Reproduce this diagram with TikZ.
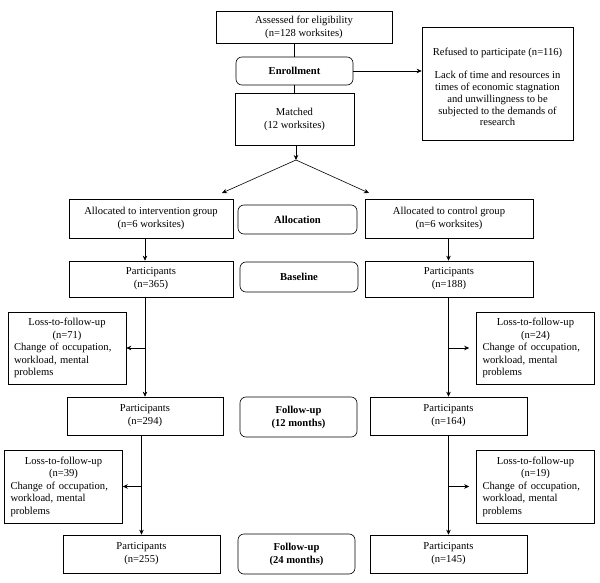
\documentclass[tikz,border=0pt]{standalone}
\usepackage{fontspec}
\setmainfont{Liberation Serif}
\usetikzlibrary{arrows.meta,positioning}

\tikzset{
    box/.style={draw, line width=0.6pt, align=center, inner xsep=2pt, inner ysep=1.5pt,
        font=\fontsize{10.6}{13}\selectfont},
    phase/.style={box, rounded corners=6pt, font=\fontsize{10.6}{13}\selectfont\bfseries},
    lossbox/.style={box, align=left, text width=106pt, inner xsep=6pt,
        font=\fontsize{10.6}{12.5}\selectfont},
    flow/.style={line width=0.6pt},
}

\begin{document}
\begin{tikzpicture}[x=1pt, y=-1pt, >={Stealth[length=5pt,width=4.5pt]}]
    \useasboundingbox (0,0) rectangle (600,583);

    % Enrollment
    \node[box, minimum width=176, minimum height=32] (assess) at (304,27)
        {Assessed for eligibility\\(n=128 worksites)};
    \node[phase, minimum width=117, minimum height=28] (enroll) at (294.5,71)
        {Enrollment};
    \node[box, minimum width=119, minimum height=52] (match) at (294.5,119)
        {Matched\\(12 worksites)};
    \node[box, minimum width=151, minimum height=113,
          font=\fontsize{10.6}{11.8}\selectfont] (refuse) at (497.5,83.5)
        {\rule{0pt}{15pt}Refused to participate (n=116)\\[11pt]
         Lack of time and resources in\\times of economic stagnation\\
         and unwillingness to be\\subjected to the demands of\\research};

    \draw[flow] (assess.south -| enroll.north) -- (enroll.north);
    \draw[flow] (enroll) -- (match);
    \draw[flow, ->] (enroll.east) -- (refuse.west |- enroll.east);

    % Split into the two groups
    \coordinate (split) at (296,160);
    \coordinate (toleft) at (222,193);
    \coordinate (toright) at (369,193);
    \draw[flow, ->] (match.south -| split) -- (split);
    \draw[flow, ->] (split) -- (toleft);
    \draw[flow, ->] (split) -- (toright);

    % Allocation
    \node[box, minimum width=164, minimum height=39] (interv) at (151,218.5)
        {Allocated to intervention group\\(n=6 worksites)};
    \node[phase, minimum width=119, minimum height=29] (alloc) at (297.5,219.5)
        {Allocation};
    \node[box, minimum width=168, minimum height=39] (control) at (449,218.5)
        {Allocated to control group\\(n=6 worksites)};

    % Baseline
    \node[box, minimum width=164, minimum height=36] (partA) at (151,279)
        {Participants\\(n=365)};
    \node[phase, minimum width=118, minimum height=30] (base) at (299,277)
        {Baseline};
    \node[box, minimum width=168, minimum height=36] (partB) at (449,279)
        {Participants\\(n=188)};

    % Follow-up 12 months
    \node[lossbox, minimum height=72] (lossA) at (67,348)
        {{\centering Loss-to-follow-up\\(n=71)\par}Change of occupation,\\workload, mental\\problems};
    \node[lossbox, minimum height=72] (lossB) at (535.5,348)
        {{\centering Loss-to-follow-up\\(n=24)\par}Change of occupation,\\workload, mental\\problems};
    \node[box, minimum width=156, minimum height=38] (partC) at (145,416)
        {Participants\\(n=294)};
    \node[phase, minimum width=117, minimum height=40] (fuA) at (298.5,417)
        {Follow-up\\(12 months)};
    \node[box, minimum width=157, minimum height=38] (partD) at (448.5,416)
        {Participants\\(n=164)};

    % Follow-up 24 months
    \node[lossbox, minimum height=73] (lossC) at (63.5,486.5)
        {{\centering Loss-to-follow-up\\(n=39)\par}Change of occupation,\\workload, mental\\problems};
    \node[lossbox, minimum height=73] (lossD) at (535.5,486.5)
        {{\centering Loss-to-follow-up\\(n=19)\par}Change of occupation,\\workload, mental\\problems};
    \node[box, minimum width=157, minimum height=38] (partE) at (141.5,554)
        {Participants\\(n=255)};
    \node[phase, minimum width=117, minimum height=40] (fuB) at (296.5,554)
        {Follow-up\\(24 months)};
    \node[box, minimum width=157, minimum height=38] (partF) at (448.5,554)
        {Participants\\(n=145)};

    % Flow between stages
    \draw[flow, ->] (interv.south -| partC.north) -- (partA.north -| partC.north);
    \draw[flow, ->] (control.south -| partD.north) -- (partB.north -| partD.north);
    \draw[flow, ->] (partA.south -| partC.north) -- (partC.north);
    \draw[flow, ->] (partC.north |- lossA.east) -- (lossA.east);
    \draw[flow, ->] (partB.south -| partD.north) -- (partD.north);
    \draw[flow, ->, shorten >=7pt] (partD.north |- lossB.west) -- (lossB.west);
    \draw[flow, ->] (partC.south -| partE.north) -- (partE.north);
    \draw[flow, ->] (partE.north |- lossC.east) -- (lossC.east);
    \draw[flow, ->] (partD.south) -- (partF.north);
    \draw[flow, ->, shorten >=7pt] (partF.north |- lossD.west) -- (lossD.west);
\end{tikzpicture}
\end{document}
